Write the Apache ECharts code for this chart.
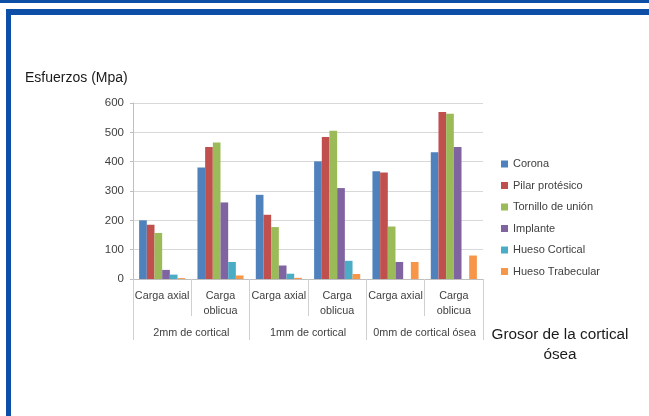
<!DOCTYPE html>
<html><head><meta charset="utf-8">
<script src="https://cdn.jsdelivr.net/npm/echarts@6/dist/echarts.min.js"></script>
<style>html,body{margin:0;padding:0;background:#fff}#c{width:649px;height:416px}</style>
</head><body><div id="c"></div>
<script>
const categories = ['Carga axial','Carga\noblicua','Carga axial','Carga\noblicua','Carga axial','Carga\noblicua'];
const groups = ['2mm de cortical','1mm de cortical','0mm de cortical ósea'];
const seriesNames = ['Corona','Pilar protésico','Tornillo de unión','Implante','Hueso Cortical','Hueso Trabecular'];
const corona = [200, 380, 287, 401, 367, 432];
const pilar = [185, 450, 219, 484, 363, 569];
const tornillo = [157, 465, 177, 505, 179, 563];
const implante = [31, 261, 46, 310, 58, 450];
const huesoCortical = [15, 58, 18, 62, 0, 0];
const huesoTrabecular = [3, 12, 4, 17, 58, 80];
const yTicks = [0, 100, 200, 300, 400, 500, 600];
const yTitle = 'Esfuerzos (Mpa)';
const xTitle = 'Grosor de la cortical\nósea';

const values = [corona, pilar, tornillo, implante, huesoCortical, huesoTrabecular];
const colors = ['#4F81BD','#C0504D','#9BBB59','#8064A2','#4BACC6','#F79646'];
const font = "'Liberation Sans',sans-serif";
const blue = '#0d4ea6';

const chart = echarts.init(document.getElementById('c'), null, {renderer:'canvas'});
chart.setOption({
  animation:false,
  textStyle:{fontFamily:font},
  color:colors,
  title:{text:yTitle,left:25,top:71,padding:0,textStyle:{fontFamily:font,fontSize:14,fontWeight:'normal',color:'#1a1a1a'}},
  legend:{orient:'vertical',left:501,top:158,padding:0,itemWidth:7,itemHeight:7,itemGap:9.5,icon:'rect',
    textStyle:{fontFamily:font,fontSize:11,color:'#404040',lineHeight:12},data:seriesNames},
  grid:{left:133,right:166,top:103,bottom:137,containLabel:false},
  xAxis:[
    {type:'category',data:categories,position:'bottom',
     axisLine:{show:true,lineStyle:{color:'#bfbfbf'}},
     axisTick:{show:true,interval:0,length:37,lineStyle:{color:'#d0d0d0'}},
     axisLabel:{interval:0,margin:9.5,fontSize:10.8,lineHeight:15,color:'#404040',fontFamily:font}},
    {type:'category',data:groups,position:'bottom',
     axisLine:{show:false},
     axisTick:{show:true,interval:0,length:61,lineStyle:{color:'#d0d0d0'}},
     axisLabel:{interval:0,margin:47,fontSize:10.8,lineHeight:15,color:'#404040',fontFamily:font}}
  ],
  yAxis:{type:'value',min:yTicks[0],max:yTicks[yTicks.length-1],interval:100,
    axisLine:{show:true,lineStyle:{color:'#bfbfbf'}},
    axisTick:{show:true,length:3,lineStyle:{color:'#bfbfbf'}},
    splitLine:{lineStyle:{color:'#d9d9d9'}},
    axisLabel:{fontSize:11.5,color:'#404040',margin:9,fontFamily:font}},
  series:seriesNames.map((n,i)=>({name:n,type:'bar',data:values[i],xAxisIndex:0,
    barGap:'0%',barCategoryGap:'21%',itemStyle:{color:colors[i]}})),
  graphic:[
    {type:'rect',shape:{x:0,y:0,width:649,height:3},style:{fill:blue},silent:true},
    {type:'rect',shape:{x:6,y:9,width:643,height:6},style:{fill:blue},silent:true},
    {type:'rect',shape:{x:6,y:9,width:5,height:407},style:{fill:blue},silent:true},
    {type:'text',x:560,y:325,style:{text:xTitle,textAlign:'center',fontFamily:font,fontSize:15.3,lineHeight:20,fill:'#1a1a1a'}}
  ]
});
</script></body></html>
